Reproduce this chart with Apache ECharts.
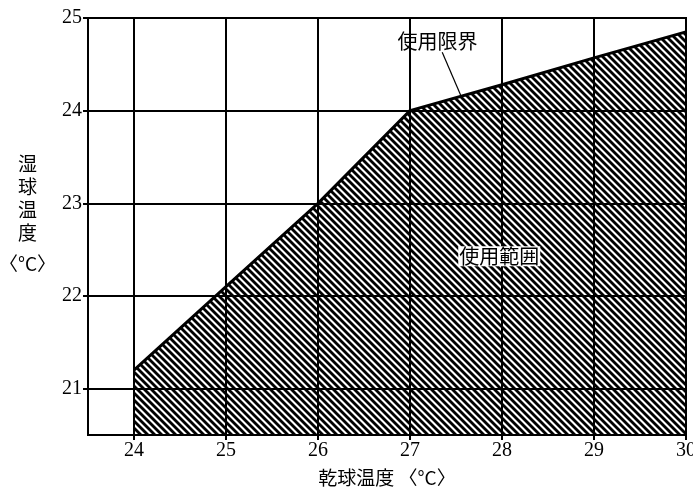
<!DOCTYPE html>
<html lang="ja">
<head>
    <meta charset="UTF-8">
    <title>使用範囲</title>
    <script src="https://cdn.jsdelivr.net/npm/echarts@6/dist/echarts.min.js"></script>
    <style>
        html, body { margin: 0; padding: 0; background: #fff; }
    </style>
</head>
<body>
    <div id="main" style="width: 693px;height:491px;"></div>
</body>
    <script type="text/javascript">
        // 乾球温度 (x) と 湿球温度 (y) の使用限界
        var dryBulb = [24, 25, 26, 27, 28, 29, 30];
        var wetBulb = [21.2, 22.1, 23.0, 24.0, 24.28, 24.57, 24.85];
        var xTicks = [24, 25, 26, 27, 28, 29, 30];
        var yTicks = [21, 22, 23, 24, 25];

        // 斜線のハッチング
        function hatch() {
            var c = document.createElement('canvas');
            c.width = 7; c.height = 7;
            var g = c.getContext('2d');
            g.strokeStyle = '#000';
            g.lineWidth = 2.8;
            for (var k = -7; k <= 7; k += 7) {
                g.beginPath();
                g.moveTo(k - 1, -1);
                g.lineTo(k + 8, 8);
                g.stroke();
            }
            return c;
        }

        var serif = '"Liberation Serif", "DejaVu Serif", serif';
        var cjk = '"Noto Sans CJK JP", sans-serif';

        var myChart = echarts.init(document.getElementById('main'));

        var option = {
            animation: false,
            grid: {
                left: 88, right: 7, top: 18, bottom: 56,
                outerBoundsMode: 'none', containLabel: false,
                show: true, borderColor: '#000', borderWidth: 2
            },
            xAxis: {
                type: 'value', min: 23.5, max: 30,
                name: '乾球温度 〈°C〉', nameLocation: 'middle', nameGap: 33,
                nameTextStyle: { fontFamily: cjk, fontSize: 19, color: '#000' },
                axisLine: { lineStyle: { color: '#000', width: 2 } },
                axisTick: { customValues: xTicks, length: 5, lineStyle: { color: '#000', width: 2 } },
                axisLabel: { customValues: xTicks, fontFamily: serif, fontSize: 20, color: '#000', margin: 6 },
                splitLine: { show: true, lineStyle: { color: '#000', width: 2 } }
            },
            yAxis: {
                type: 'value', min: 20.5, max: 25,
                name: '湿\n球\n温\n度\n{u|〈°C〉}', nameLocation: 'middle', nameGap: 54, nameRotate: 0,
                nameTextStyle: {
                    fontFamily: cjk, fontSize: 19, color: '#000', align: 'center',
                    lineHeight: 23, padding: [0, 0, 18, 0],
                    rich: { u: { fontFamily: cjk, fontSize: 19, lineHeight: 38, color: '#000' } }
                },
                axisLine: { lineStyle: { color: '#000', width: 2 } },
                axisTick: { customValues: yTicks, length: 5, lineStyle: { color: '#000', width: 2 } },
                axisLabel: { customValues: yTicks, fontFamily: serif, fontSize: 20, color: '#000', margin: 6 },
                splitLine: { show: true, lineStyle: { color: '#000', width: 2 } }
            },
            series: [
                {
                    type: 'line',
                    data: dryBulb.map(function (x, i) { return [x, wetBulb[i]]; }),
                    symbol: 'none',
                    lineStyle: { color: '#000', width: 3 },
                    areaStyle: { origin: 'start', opacity: 1, color: { image: hatch(), repeat: 'repeat' } },
                    markPoint: {
                        symbol: 'rect', symbolSize: 0,
                        label: { show: true, fontFamily: cjk, fontSize: 20, color: '#000' },
                        data: [
                            { name: '使用限界', coord: [27.3, 24.75],
                              label: { formatter: '使用限界' } },
                            { name: '使用範囲', coord: [27.97, 22.43],
                              label: { formatter: '使用範囲', backgroundColor: '#fff', padding: [0, 1] } }
                        ]
                    },
                    markLine: {
                        silent: true, symbol: 'none',
                        lineStyle: { color: '#000', width: 1.2, type: 'solid' },
                        label: { show: false },
                        data: [[{ coord: [27.35, 24.63] }, { coord: [27.55, 24.17] }]]
                    }
                }
            ]
        };

        myChart.setOption(option);
    </script>
</html>
